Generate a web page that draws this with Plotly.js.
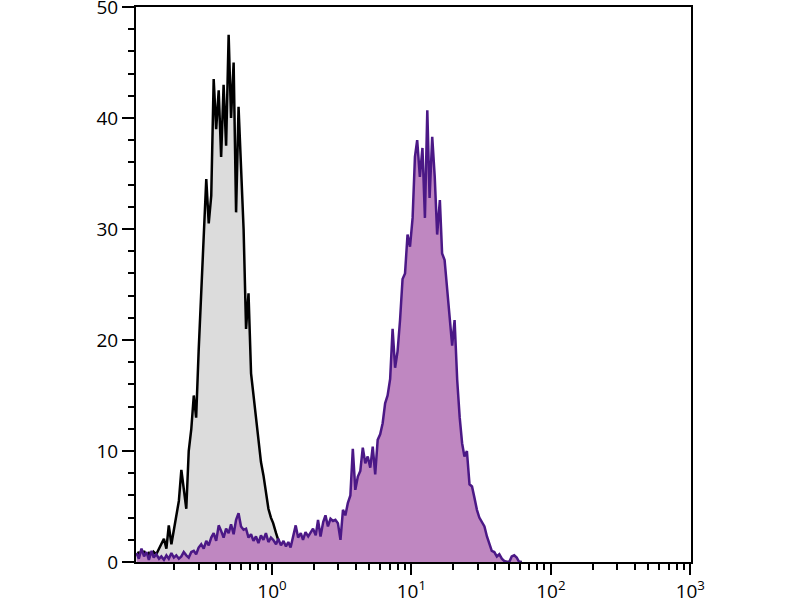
<!DOCTYPE html>
<html>
<head>
<meta charset="utf-8">
<script src="https://cdn.plot.ly/plotly-3.0.1.min.js"></script>
<style>
  html, body { margin: 0; padding: 0; background: #fff; }
  #plot { width: 800px; height: 600px; }
</style>
</head>
<body>
<div id="plot"></div>
<script>
// fluorescence bins (shared by both histograms)
const binValues = [
  0.107, 0.111, 0.116, 0.121, 0.126, 0.131, 0.137, 0.142, 0.148, 0.155,
  0.161, 0.168, 0.175, 0.182, 0.190, 0.198, 0.206, 0.215, 0.224, 0.233,
  0.243, 0.253, 0.264, 0.275, 0.286, 0.298, 0.311, 0.324, 0.338, 0.352,
  0.367, 0.382, 0.398, 0.415, 0.432, 0.450, 0.469, 0.489, 0.509, 0.531,
  0.553, 0.576, 0.600, 0.626, 0.652, 0.679, 0.708, 0.737, 0.768, 0.800,
  0.834, 0.869, 0.905, 0.943, 0.983, 1.02, 1.07, 1.11, 1.16, 1.21,
  1.26, 1.31, 1.36, 1.42, 1.48, 1.54, 1.61, 1.67, 1.74, 1.82,
  1.89, 1.97, 2.06, 2.14, 2.23, 2.33, 2.42, 2.52, 2.63, 2.74,
  2.85, 2.97, 3.10, 3.23, 3.36, 3.50, 3.65, 3.80, 3.96, 4.13,
  4.30, 4.48, 4.67, 4.86, 5.07, 5.28, 5.50, 5.73, 5.97, 6.22,
  6.48, 6.75, 7.04, 7.33, 7.64, 7.96, 8.29, 8.64, 9.00, 9.38,
  9.77, 10.2, 10.6, 11.0, 11.5, 12.0, 12.5, 13.0, 13.5, 14.1,
  14.7, 15.3, 16.0, 16.6, 17.3, 18.0, 18.8, 19.6, 20.4, 21.3,
  22.2, 23.1, 24.0, 25.0, 26.1, 27.2, 28.3, 29.5, 30.7, 32.0,
  33.4, 34.8, 36.2, 37.7, 39.3, 41.0, 42.7, 44.5, 46.3, 48.3,
  50.3, 52.4, 54.6, 56.9, 59.3, 61.8
];

// isotype control (grey)
const controlCounts = [
  0.6, 0.9, 0.4, 1.0, 0.5, 0.8, 0.3, 0.9, 0.7, 1.2,
  1.5, 2.1, 1.2, 3.3, 1.6, 2.8, 3.9, 5.5, 8.3, 6.4,
  4.8, 10.0, 12.0, 15.0, 13.0, 19.0, 24.0, 29.8, 34.5, 30.5,
  33.0, 43.5, 39.0, 42.5, 36.5, 43.0, 37.5, 47.5, 40.0, 45.0,
  31.5, 41.0, 35.5, 30.0, 21.0, 24.2, 17.0, 15.0, 13.5, 11.5,
  9.0, 7.8, 6.5, 4.8, 4.0, 3.5, 2.6, 2.0, 1.2, 0.8,
  0.5, 0.6, 0.3, 0.4, 0.2, 0.3, 0.1, 0.2, 0, 0,
  0, 0, 0, 0, 0, 0, 0, 0, 0, 0,
  0, 0, 0, 0, 0, 0, 0, 0, 0, 0,
  0, 0, 0, 0, 0, 0, 0, 0, 0, 0,
  0, 0, 0, 0, 0, 0, 0, 0, 0, 0,
  0, 0, 0, 0, 0, 0, 0, 0, 0, 0,
  0, 0, 0, 0, 0, 0, 0, 0, 0, 0,
  0, 0, 0, 0, 0, 0, 0, 0, 0, 0,
  0, 0, 0, 0, 0, 0, 0, 0, 0, 0,
  0, 0, 0, 0, 0, 0
];

// stained sample (purple)
const stainedCounts = [
  0.8, 0.3, 1.2, 0.5, 0.9, 0.2, 1.0, 0.4, 0.7, 0.3,
  0.5, 0.2, 0.6, 0.3, 0.8, 0.4, 0.6, 0.3, 0.5, 0.9,
  0.6, 0.4, 0.9, 1.0, 0.7, 1.3, 1.6, 1.2, 1.9, 1.5,
  2.2, 2.6, 1.9, 3.3, 2.8, 2.2, 3.0, 2.6, 3.4, 2.5,
  3.8, 4.4, 3.2, 2.9, 3.0, 2.2, 2.5, 1.9, 2.3, 1.7,
  2.4, 2.0, 2.6, 1.8, 2.2, 2.0, 1.6, 2.1, 1.5, 1.9,
  1.4, 1.8, 1.3, 2.4, 3.3, 2.2, 2.6, 2.0, 2.7, 2.3,
  2.6, 3.0, 2.4, 3.8, 2.3, 3.6, 4.2, 3.2, 3.9, 3.7,
  3.8, 3.5, 2.0, 4.7, 4.2, 5.3, 6.0, 10.2, 6.5, 7.7,
  8.2, 10.3, 8.9, 9.5, 8.5, 10.4, 7.9, 11.0, 11.5, 12.5,
  14.3, 15.0, 16.5, 21.0, 17.5, 19.0, 21.8, 25.5, 26.0, 29.5,
  28.4, 31.0, 36.5, 38.0, 34.7, 37.3, 31.0, 40.7, 32.8, 38.3,
  34.7, 29.5, 32.6, 27.8, 27.2, 24.8, 22.4, 19.5, 21.8, 16.4,
  13.0, 10.7, 9.5, 10.0, 7.0, 6.8, 5.8, 4.7, 4.0, 3.6,
  3.2, 2.3, 1.6, 1.0, 0.9, 0.5, 0.7, 0.3, 0.1, 0,
  0, 0.5, 0.6, 0.4, 0, 0
];

const majorTicks = [1, 10, 100, 1000];
const majorLabels = ['10<sup>0</sup>', '10<sup>1</sup>', '10<sup>2</sup>', '10<sup>3</sup>'];
const minorTicks = [
  0.2, 0.3, 0.4, 0.5, 0.6, 0.7, 0.8, 0.9,
  2, 3, 4, 5, 6, 7, 8, 9,
  20, 30, 40, 50, 60, 70, 80, 90,
  200, 300, 400, 500, 600, 700, 800, 900
];

const traces = [
  {
    x: binValues,
    y: controlCounts,
    type: 'scatter',
    mode: 'lines',
    fill: 'tozeroy',
    fillcolor: '#dcdcdc',
    line: { color: '#000000', width: 2.5 },
    hoverinfo: 'none'
  },
  {
    x: binValues,
    y: stainedCounts,
    type: 'scatter',
    mode: 'lines',
    fill: 'tozeroy',
    fillcolor: '#bf87c1',
    line: { color: '#4b1886', width: 2.5 },
    hoverinfo: 'none'
  }
];

const tickFont = { family: 'Open Sans, Noto Sans, sans-serif', size: 19, color: '#000' };

const layout = {
  width: 800,
  height: 600,
  margin: { l: 136, r: 109, t: 7, b: 38 },
  paper_bgcolor: '#fff',
  plot_bgcolor: '#fff',
  showlegend: false,
  xaxis: {
    type: 'log',
    range: [-0.975, 3.005],
    showgrid: false,
    zeroline: false,
    showline: true,
    linecolor: '#000',
    linewidth: 2,
    mirror: true,
    ticks: 'outside',
    ticklen: 11,
    tickwidth: 2,
    tickcolor: '#000',
    tickmode: 'array',
    tickvals: majorTicks,
    ticktext: majorLabels,
    tickfont: tickFont,
    ticklabeloverflow: 'allow',
    minor: { tickmode: 'array', tickvals: minorTicks, ticks: 'outside', ticklen: 6, tickwidth: 2, tickcolor: '#000', showgrid: false }
  },
  yaxis: {
    range: [0, 50],
    showgrid: false,
    zeroline: false,
    showline: true,
    linecolor: '#000',
    linewidth: 2,
    mirror: true,
    ticks: 'outside',
    ticklen: 12,
    tickwidth: 2,
    tickcolor: '#000',
    dtick: 10,
    tickfont: tickFont,
    ticklabeloverflow: 'allow',
    minor: { dtick: 2, ticks: 'outside', ticklen: 6, tickwidth: 2, tickcolor: '#000', showgrid: false }
  }
};

Plotly.newPlot('plot', traces, layout, { staticPlot: true });
</script>
</body>
</html>
